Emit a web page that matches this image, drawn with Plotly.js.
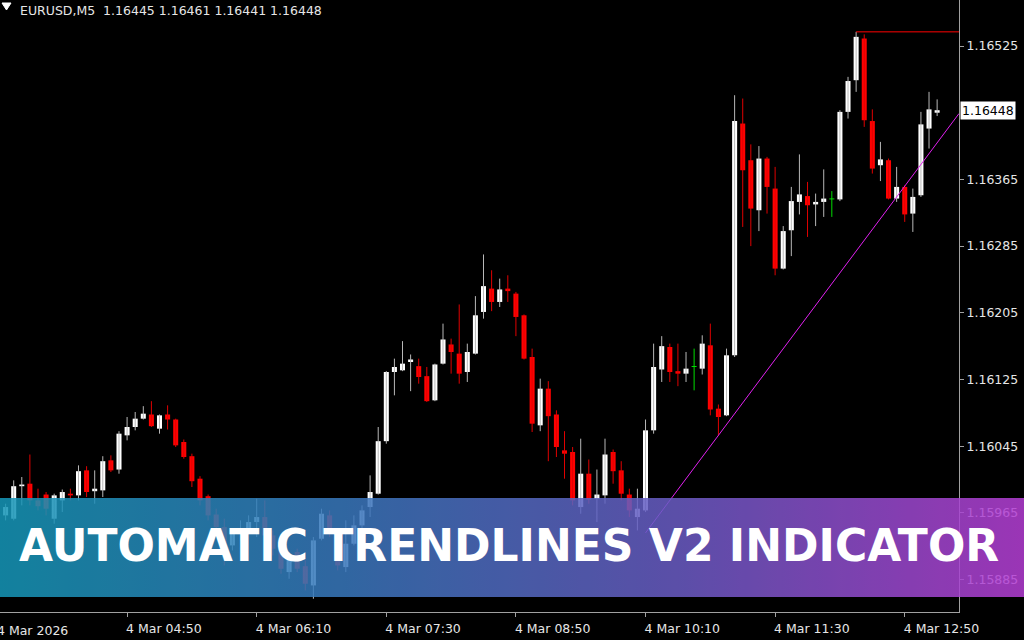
<!DOCTYPE html>
<html><head><meta charset="utf-8">
<script src="https://cdn.plot.ly/plotly-3.0.1.min.js"></script>
<style>html,body{margin:0;padding:0;background:#000;overflow:hidden}#chart{width:1024px;height:640px}</style>
</head><body><div id="chart"></div>
<script>
const symbolLabel = "EURUSD,M5";
const firstBarTime = "03:35";
const barMinutes = 5;

const open = [1.15962,1.15958,1.15997,1.16000,1.15980,1.15987,1.15958,1.15980,1.15988,1.15986,1.16016,1.15991,1.15992,1.16028,1.16017,
1.16058,1.16068,1.16078,1.16083,1.16066,1.16083,1.16077,1.16050,1.16033,1.16006,
1.15985,1.15963,1.15948,1.15926,1.15940,1.15946,1.15954,1.15960,1.15938,1.15922,
1.15894,1.15918,1.15901,1.15878,1.15934,1.15962,1.15940,1.15900,1.15928,1.15950,
1.15972,1.15988,1.16051,1.16134,1.16136,1.16146,1.16141,1.16129,1.16100,1.16144,
1.16167,1.16156,1.16134,1.16156,1.16206,1.16234,1.16218,1.16234,1.16228,1.16202,
1.16152,1.16070,1.16114,1.16083,1.16040,1.16038,1.15972,1.16012,1.15982,1.15986,
1.16038,1.16016,1.15987,1.15960,1.15968,1.16064,1.16137,1.16164,1.16135,1.16132,
1.16140,1.16138,1.16166,1.16090,1.16082,1.16154,1.16432,1.16388,1.16328,1.16390,
1.16354,1.16258,1.16304,1.16338,1.16345,1.16335,1.16338,1.16341,1.16341,1.16446,
1.16484,1.16534,1.16435,1.16382,1.16388,1.16342,1.16356,1.16324,1.16346,1.16426,
1.16445];
const high = [1.15976,1.16004,1.16008,1.16035,1.15994,1.15990,1.15988,1.15993,1.15994,1.16022,1.16021,1.16016,1.16033,1.16034,1.16063,
1.16080,1.16086,1.16093,1.16099,1.16083,1.16094,1.16078,1.16053,1.16036,1.16009,
1.15987,1.15970,1.15958,1.15944,1.15956,1.15962,1.15982,1.15980,1.15944,1.15926,
1.15918,1.15922,1.15908,1.15936,1.15970,1.15968,1.15946,1.15956,1.15962,1.15974,
1.16010,1.16068,1.16135,1.16150,1.16171,1.16155,1.16150,1.16140,1.16144,1.16192,
1.16174,1.16215,1.16168,1.16225,1.16275,1.16256,1.16246,1.16250,1.16230,1.16203,
1.16162,1.16126,1.16123,1.16088,1.16063,1.16044,1.16054,1.16029,1.16017,1.16054,
1.16041,1.16027,1.15994,1.15994,1.16077,1.16168,1.16177,1.16168,1.16168,1.16158,
1.16162,1.16178,1.16192,1.16095,1.16162,1.16466,1.16462,1.16407,1.16405,1.16392,
1.16380,1.16309,1.16356,1.16395,1.16362,1.16348,1.16377,1.16351,1.16448,1.16488,
1.16542,1.16539,1.16449,1.16410,1.16390,1.16380,1.16358,1.16354,1.16446,1.16470,
1.16461];
const low = [1.15956,1.15956,1.15974,1.15974,1.15968,1.15962,1.15952,1.15966,1.15980,1.15980,1.15984,1.15976,1.15984,1.16014,1.16012,
1.16052,1.16064,1.16077,1.16068,1.16060,1.16065,1.16044,1.16030,1.15996,1.15974,
1.15956,1.15942,1.15902,1.15920,1.15932,1.15940,1.15936,1.15936,1.15914,1.15892,
1.15886,1.15894,1.15872,1.15862,1.15932,1.15936,1.15896,1.15894,1.15926,1.15944,
1.15960,1.15987,1.16048,1.16106,1.16135,1.16111,1.16120,1.16098,1.16099,1.16143,
1.16132,1.16120,1.16122,1.16155,1.16198,1.16207,1.16212,1.16218,1.16177,1.16149,
1.16062,1.16063,1.16027,1.16032,1.16006,1.15974,1.15964,1.15976,1.15954,1.15976,
1.16000,1.15980,1.15960,1.15944,1.15966,1.16060,1.16122,1.16122,1.16117,1.16122,
1.16112,1.16131,1.16082,1.16058,1.16081,1.16152,1.16308,1.16285,1.16303,1.16324,
1.16250,1.16257,1.16273,1.16323,1.16296,1.16309,1.16320,1.16320,1.16339,1.16438,
1.16470,1.16428,1.16372,1.16363,1.16341,1.16338,1.16314,1.16302,1.16344,1.16402,
1.16441];
const close = [1.15972,1.15997,1.15999,1.15980,1.15973,1.15970,1.15986,1.15990,1.15986,1.16015,1.15990,1.15994,1.16027,1.16016,1.16060,
1.16068,1.16078,1.16084,1.16069,1.16082,1.16077,1.16046,1.16032,1.16003,1.15980,
1.15962,1.15948,1.15926,1.15940,1.15946,1.15954,1.15960,1.15938,1.15922,1.15898,
1.15913,1.15898,1.15880,1.15932,1.15964,1.15940,1.15902,1.15928,1.15950,1.15968,
1.15990,1.16051,1.16134,1.16140,1.16144,1.16149,1.16128,1.16099,1.16143,1.16173,
1.16158,1.16132,1.16158,1.16202,1.16237,1.16218,1.16233,1.16231,1.16200,1.16150,
1.16072,1.16114,1.16081,1.16044,1.16036,1.15980,1.16012,1.15981,1.15987,1.16035,
1.16015,1.15988,1.15968,1.15970,1.16064,1.16140,1.16165,1.16134,1.16132,1.16138,
1.16140,1.16168,1.16089,1.16080,1.16154,1.16435,1.16376,1.16330,1.16390,1.16356,
1.16258,1.16303,1.16339,1.16347,1.16334,1.16338,1.16342,1.16341,1.16446,1.16483,
1.16536,1.16436,1.16378,1.16389,1.16342,1.16356,1.16323,1.16344,1.16431,1.16449,
1.16448];

const timeTickTimes = ["04:50","06:10","07:30","08:50","10:10","11:30","12:50"];
const timeTickText = ["4 Mar 04:50","4 Mar 06:10","4 Mar 07:30","4 Mar 08:50","4 Mar 10:10","4 Mar 11:30","4 Mar 12:50"];
const dateLabel = "4 Mar 2026";
const priceTicks = [1.15885,1.15965,1.16045,1.16125,1.16205,1.16285,1.16365,1.16525];
const priceRange = [1.158461, 1.165802];
const trendStartTime = "10:10";
const trendPrices = [1.15941, 1.16444];
const bannerText = "AUTOMATIC TRENDLINES V2 INDICATOR";

// bar times
const toMin = s => { const [h,m] = s.split(':').map(Number); return h*60+m; };
const pad = n => String(n).padStart(2,'0');
const times = open.map((_, i) => { const t = toMin(firstBarTime) + i*barMinutes; return pad(Math.floor(t/60)) + ':' + pad(t%60); });
const idx = times.map((_, i) => i);
const xRange = [-0.69, 117.7];

const UP = '#ffffff', DOWN = '#ff0000', DOJI = '#00dd00';
const dirs = open.map((o, i) => close[i] > o ? 'up' : (close[i] < o ? 'down' : 'doji'));
const bodyColor = dirs.map(d => d === 'up' ? UP : d === 'down' ? DOWN : DOJI);
const minBody = 0.000012;
const bodyBase = open.map((o, i) => Math.min(o, close[i]));
const bodyLen = open.map((o, i) => Math.max(Math.abs(close[i] - o), minBody));

function wickTrace(dir, color) {
  const xs = [], ys = [];
  idx.forEach(i => { if (dirs[i] === dir) { xs.push(i, i, null); ys.push(low[i], high[i], null); } });
  return {type:'scatter', mode:'lines', x:xs, y:ys, line:{color:color, width:1}, hoverinfo:'skip'};
}

const maxHigh = Math.max(...high);
const maxIdx = high.indexOf(maxHigh);
const trendStartIdx = times.indexOf(trendStartTime);

const traces = [
  wickTrace('up', '#b8b8b8'),
  wickTrace('down', '#e00000'),
  wickTrace('doji', DOJI),
  {type:'bar', x:idx, y:bodyLen, base:bodyBase, width:0.62, marker:{color:bodyColor, line:{width:0}}, hoverinfo:'skip'},
  {type:'scatter', mode:'lines', x:[maxIdx, xRange[1]], y:[maxHigh, maxHigh], line:{color:'#ff0000', width:1}, hoverinfo:'skip'},
  {type:'scatter', mode:'lines', x:[trendStartIdx, xRange[1]], y:trendPrices, line:{color:'#e020f0', width:1}, hoverinfo:'skip'}
];

const tickIdx = timeTickTimes.map(t => times.indexOf(t));
const last = open.length - 1;
const fmt = v => v.toFixed(5);

const svg = "<svg xmlns='http://www.w3.org/2000/svg' width='1024' height='100' viewBox='0 0 1024 100' preserveAspectRatio='none'>" +
  "<defs><linearGradient id='g' x1='0' y1='0' x2='1' y2='0'>" +
  "<stop offset='0' stop-color='#1697b8'/><stop offset='0.33' stop-color='#3878bc'/>" +
  "<stop offset='0.66' stop-color='#6a5cc4'/><stop offset='1' stop-color='#b53ed4'/>" +
  "</linearGradient></defs><rect x='0' y='0' width='1024' height='100' fill='url(#g)'/></svg>";

const W = 959, H = 612;
const tickFont = {family:'DejaVu Sans', size:12.5, color:'#e6e6e6'};
const layout = {
  width:1024, height:640,
  paper_bgcolor:'#000000', plot_bgcolor:'#000000',
  margin:{l:0, r:65, t:0, b:28, pad:0},
  showlegend:false, barmode:'overlay', hovermode:false,
  font:{family:'DejaVu Sans', color:'#e6e6e6', size:12.5},
  xaxis:{range:xRange, showgrid:false, zeroline:false, showline:true, linecolor:'#a0a0a0', linewidth:1,
    ticks:'outside', ticklen:4, tickcolor:'#a0a0a0', tickvals:tickIdx, ticktext:timeTickText,
    ticklabelposition:'outside right', ticklabelstandoff:5, ticklabelshift:-2,
    tickfont:tickFont, automargin:false, fixedrange:true},
  yaxis:{range:priceRange, side:'right', showgrid:false, zeroline:false, showline:true, mirror:true, linecolor:'#a0a0a0', linewidth:1,
    ticks:'outside', ticklen:4, tickcolor:'#a0a0a0', tickvals:priceTicks, ticktext:priceTicks.map(fmt),
    tickfont:tickFont, automargin:false, fixedrange:true},
  images:[{source:'data:image/svg+xml;charset=utf-8,' + encodeURIComponent(svg), xref:'paper', yref:'paper',
    x:0, y:1 - 498/H, sizex:1024/W, sizey:99/H, xanchor:'left', yanchor:'top', sizing:'stretch', opacity:0.86, layer:'above'}],
  shapes:[{type:'path', xref:'paper', yref:'paper', path:`M ${2/W} ${1-3/H} L ${11/W} ${1-3/H} L ${6.5/W} ${1-10/H} Z`,
    fillcolor:'#ffffff', line:{color:'#ffffff', width:1}}],
  annotations:[
    {xref:'paper', yref:'paper', x:0, y:1, xanchor:'left', yanchor:'top', xshift:18, yshift:-1, showarrow:false,
      text: symbolLabel + '\u00a0\u00a0' + [open[last], high[last], low[last], close[last]].map(fmt).join(' '),
      font:{family:'DejaVu Sans', size:12.5, color:'#e6e6e6'}},
    {xref:'paper', yref:'paper', x:0, y:0, xanchor:'left', yanchor:'top', xshift:-5, yshift:-9, showarrow:false,
      text:dateLabel, font:tickFont},
    {xref:'paper', yref:'y', x:1, y:close[last], xanchor:'left', yanchor:'middle', xshift:1, showarrow:false,
      text:fmt(close[last]), bgcolor:'#ffffff', borderpad:1, font:{family:'DejaVu Sans', size:12.5, color:'#000000'}},
    {xref:'paper', yref:'paper', x:509/W, y:1 - 545/H, xanchor:'center', yanchor:'middle', showarrow:false,
      text:bannerText, font:{family:'DejaVu Sans', size:44, color:'#ffffff', weight:700}}
  ]
};

Plotly.newPlot('chart', traces, layout, {staticPlot:true, displayModeBar:false});
</script>
</body></html>
